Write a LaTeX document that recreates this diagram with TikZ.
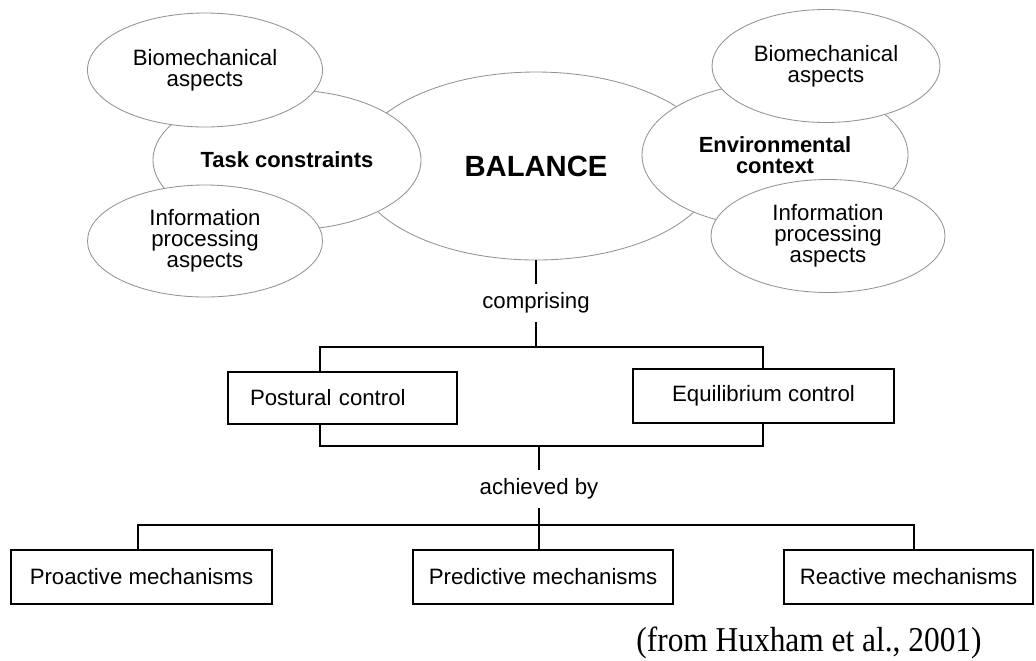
\documentclass[tikz,border=0pt]{standalone}
\usepackage{fontspec}
\setmainfont{Liberation Sans}
\newfontfamily\citefont{Liberation Serif}
\usetikzlibrary{shapes.geometric,calc}

\def\pxu{0.025cm}

\begin{document}
\begin{tikzpicture}[x=\pxu,y=-\pxu,
    oval/.style={ellipse,draw=gray!85,line width=0.6pt,fill=white,inner sep=0pt,
        align=center,font=\fontsize{15.8}{15}\selectfont},
    box/.style={rectangle,draw=black,line width=0.9pt,fill=white,inner sep=0pt,
        font=\fontsize{15.8}{19}\selectfont},
    linktext/.style={font=\fontsize{15.8}{19}\selectfont,inner xsep=2pt,inner ysep=6pt},
    link/.style={black,line width=0.9pt}]
    \useasboundingbox (0,0) rectangle (1036,660);

    % the balance cloud
    \node[oval,minimum width=362*\pxu,minimum height=188*\pxu,
        font=\fontsize{20.8}{24}\selectfont\bfseries] (bal) at (536,166) {BALANCE};
    \node[oval,minimum width=268*\pxu,minimum height=140*\pxu,
        font=\fontsize{15.6}{15}\selectfont\bfseries] (task) at (287,160) {Task constraints};
    \node[oval,minimum width=235*\pxu,minimum height=114*\pxu] (biol) at (205,70) {Biomechanical\\aspects};
    \node[oval,minimum width=235*\pxu,minimum height=112*\pxu] (infol) at (205,241) {Information\\processing\\aspects};
    \node[oval,minimum width=266*\pxu,minimum height=144*\pxu,
        font=\fontsize{15.6}{14.5}\selectfont\bfseries] (env) at (775,155) {Environmental\\context};
    \node[oval,minimum width=228*\pxu,minimum height=113*\pxu] (bior) at (826,66) {Biomechanical\\aspects};
    \node[oval,minimum width=234*\pxu,minimum height=113*\pxu] (infor) at (828,236) {Information\\processing\\aspects};

    % control boxes
    \node[box,minimum width=229*\pxu,minimum height=52*\pxu,
        text width=185*\pxu,align=left] (pos) at (342.5,398) {Postural control};
    \node[box,minimum width=261*\pxu,minimum height=54*\pxu] (equ) at (763.5,396) {Equilibrium control};

    % mechanism boxes
    \node[box,minimum width=261*\pxu,minimum height=54*\pxu] (pro) at (141.5,577) {Proactive mechanisms};
    \node[box,minimum width=260*\pxu,minimum height=54*\pxu] (pred) at (543,577) {Predictive mechanisms};
    \node[box,minimum width=249*\pxu,minimum height=54*\pxu] (rea) at (908.5,577) {Reactive mechanisms};

    \node[linktext] (comp) at (536,303) {comprising};
    \node[linktext] (ach) at (539,489) {achieved by};

    \node[inner sep=0pt,font=\citefont\fontsize{24.8}{28}\selectfont] (src) at (809,643)
        {\scalebox{0.9}[1]{(from Huxham et al., 2001)}};

    % brackets
    \coordinate (ubl) at (320,347);
    \coordinate (ubr) at (763,347);
    \coordinate (ubm) at (536,347);
    \coordinate (lbl) at (320,446);
    \coordinate (lbr) at (763,446);
    \coordinate (lbm) at (539,446);
    \coordinate (bl) at (138,525);
    \coordinate (br) at (914,525);

    \draw[link] (bal.south) -- (comp.north);
    \draw[link] (comp.south) -- (ubm);
    \draw[link] (pos.north -| ubl) -- (ubl) -- (ubr) -- (equ.north -| ubr);
    \draw[link] (pos.south -| lbl) -- (lbl) -- (lbr) -- (equ.south -| lbr);
    \draw[link] (lbm) -- (ach.north);
    \draw[link] (ach.south) -- (ach.south |- pred.north);
    \draw[link] (pro.north -| bl) -- (bl) -- (br) -- (rea.north -| br);
\end{tikzpicture}
\end{document}
